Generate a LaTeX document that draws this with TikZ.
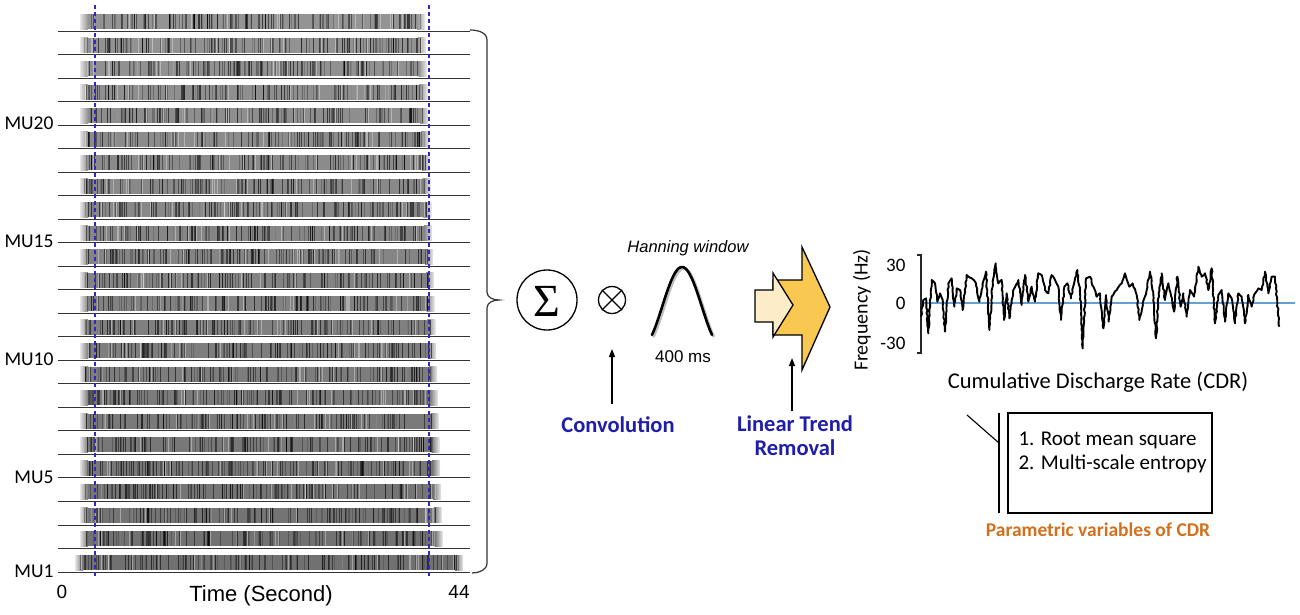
\documentclass[tikz,border=0pt]{standalone}
\usepackage{fontspec}
\setmainfont{Carlito}
\newfontfamily\arialf{Liberation Sans}
\newfontfamily\seriff{Liberation Serif}
\usetikzlibrary{arrows.meta,decorations.pathmorphing}
\definecolor{myblue}{RGB}{30,30,170}
\definecolor{dashblue}{RGB}{50,40,190}
\definecolor{myorange}{RGB}{210,112,30}
\definecolor{lightarr}{RGB}{253,236,200}
\definecolor{yellarr}{RGB}{248,200,80}
\definecolor{zeroline}{RGB}{100,160,210}
\tikzset{
  fs/.style={font=\fontsize{#1}{#1}\selectfont},
  mulabel/.style={anchor=east, font=\fontsize{19.5}{19.5}\selectfont},
  upar/.style={-{Triangle[length=8pt,width=6pt]}, line width=1.3pt},
  bluetxt/.style={text=myblue, font=\fontsize{22.5}{24}\selectfont\bfseries, align=center},
}
\begin{document}
\begin{tikzpicture}[x=1pt,y=-1pt]
\useasboundingbox (0,0) rectangle (1300,614);
\fill[white] (0,0) rectangle (1300,614);
\pgfmathsetseed{4242}
% raster
\foreach \i in {1,...,24}{
  \pgfmathsetmacro{\yb}{572-(\i-1)*23.52}
  \pgfmathsetmacro{\xs}{ifthenelse(\i==1,75,80)}
  \pgfmathsetmacro{\xe}{ifthenelse(\i==1,463,425+(24-\i)*0.8)}
  \pgfmathsetmacro{\dk}{42+(24-\i)*0.6}
  \shade[left color=black!10, right color=black!\dk] (\xs,\yb-17) rectangle (\xs+8,\yb-2);
  \fill[black!\dk] (\xs+8,\yb-17) rectangle (\xe-8,\yb-2);
  \shade[left color=black!\dk, right color=black!8] (\xe-8,\yb-17) rectangle (\xe,\yb-2);
  \foreach \k in {1,...,130}{
    \pgfmathsetmacro{\xx}{\xs+4+rnd*(\xe-\xs-8)}
    \pgfmathsetmacro{\op}{0.15+0.5*rnd}
    \pgfmathsetmacro{\lw}{0.4+0.7*rnd}
    \draw[black, opacity=\op, line width=\lw pt] (\xx,\yb-17) -- (\xx,\yb-2);
  }
  \foreach \k in {1,...,22}{
    \pgfmathsetmacro{\xx}{\xs+4+rnd*(\xe-\xs-8)}
    \draw[white, opacity=0.35, line width=0.8pt] (\xx,\yb-17) -- (\xx,\yb-2);
  }
  \draw[line width=0.9pt, black!80] (58,\yb) -- (470,\yb);
}
% dashed lines
\draw[dashblue, dash pattern=on 4pt off 3pt, line width=1.3pt] (95,5) -- (95,576);
\draw[dashblue, dash pattern=on 4pt off 3pt, line width=1.3pt] (429,5) -- (429,576);
% labels
\node[mulabel] (mu20) at (57,123) {MU20};
\node[mulabel] (mu15) at (57,241) {MU15};
\node[mulabel] (mu10) at (57,359) {MU10};
\node[mulabel] (mu5) at (57,477) {MU5};
\node[mulabel] (mu1) at (57,571) {MU1};
\node[font=\arialf\fontsize{19}{19}\selectfont] (t0) at (62,592) {0};
\node[font=\arialf\fontsize{19}{19}\selectfont] (t44) at (459,592) {44};
\node[font=\arialf\fontsize{22}{22}\selectfont] (tlab) at (261,596) {Time (Second)};
% brace
\draw[line width=1.2pt, black!80] (470,30) to[out=0,in=90] (487,40) -- (487,292) to[out=-90,in=180] (499,300)
  to[out=180,in=90] (487,308) -- (487,563) to[out=-90,in=0] (472,573);
% sigma and otimes
\node[draw, circle, line width=1.3pt, minimum size=60pt, inner sep=0pt] (sig) at (547,300) {};
\node[font=\seriff\fontsize{46}{46}\selectfont] (sigt) at (547,301) {Σ};
\node[draw, circle, line width=1.3pt, minimum size=27pt, inner sep=0pt] (ot) at (612,300) {};
\draw[line width=1.3pt] (ot.north west) -- (ot.south east) (ot.north east) -- (ot.south west);
% hanning
\draw[black!25, line width=3pt, line cap=round] plot[domain=0.12:0.88, samples=50] ({653.5+60*(\x-0.12)/0.76}, {336.5-68*((0.5*(1-cos(360*\x)))-0.134)/0.866});
\draw[black, line width=2.6pt, line cap=round] plot[domain=0.12:0.88, samples=50] ({652+60*(\x-0.12)/0.76}, {335-68*((0.5*(1-cos(360*\x)))-0.134)/0.866});
\node[font=\arialf\itshape\fontsize{16.5}{16.5}\selectfont] (hw) at (688,248) {Hanning window};
\node[font=\arialf\fontsize{17}{17}\selectfont] (ms) at (683,357) {400 ms};
% convolution arrow
\node[bluetxt] (conv) at (618,425) {Convolution};
\coordinate (convbase) at (612,404);
\coordinate (convtip) at (612,349);
\draw[upar] (convbase) -- (convtip);
% big arrows
\draw[line width=1.3pt, fill=yellarr, line join=miter] (773,280) -- (802,280) -- (802,247) -- (830,307) -- (802,370) -- (802,335) -- (773,335) -- cycle;
\draw[line width=1.3pt, fill=lightarr, line join=miter] (755,290) -- (773,290) -- (773,273) -- (793,305) -- (773,337) -- (773,322) -- (755,322) -- cycle;
\node[bluetxt] (ltr) at (795,436) {Linear Trend\\Removal};
\coordinate (ltrbase) at (792,411);
\coordinate (ltrtip) at (792,358);
\draw[upar] (ltrbase) -- (ltrtip);
% CDR plot
\draw[zeroline, line width=1.5pt] (921,303) -- (1295,303);
\draw[line width=1.1pt, black!85] (917,255) -- (921,255) -- (921,353) -- (917,353);
\node[anchor=east, fs=19] (y30) at (909,265) {30};
\node[anchor=east, fs=19] (y0) at (909,303) {0};
\node[anchor=east, fs=19] (ym30) at (909,343) {-30};
\node[rotate=90, fs=20] (ylab) at (862,310) {Frequency (Hz)};
\begin{scope}[shift={(850,240)}, x=1/3pt, y=-1/3pt]
\draw[line width=1.9pt, line join=round, decorate, decoration={random steps, segment length=3pt, amplitude=0.6pt}] plot coordinates {
(213,230) (220,180) (228,175) (235,280) (245,120) (255,130) (262,185) (270,160) (278,180) (285,275)
(295,130) (305,115) (313,200) (320,145) (330,150) (338,210) (350,105) (365,115) (378,130) (388,185)
(398,130) (408,95) (418,270) (428,125) (437,70) (445,130) (455,120) (462,240) (470,160) (478,235)
(490,150) (505,120) (515,195) (525,105) (535,185) (545,140) (555,185) (565,100) (575,105) (585,150)
(595,160) (605,105) (615,120) (625,140) (633,240) (643,140) (652,130) (663,175) (675,115) (682,90)
(690,160) (698,325) (708,115) (720,110) (730,140) (740,170) (750,160) (760,265) (768,165) (776,245)
(785,170) (800,150) (815,130) (825,100) (838,140) (848,130) (860,165) (868,240) (878,190) (890,150)
(900,95) (910,165) (918,295) (926,160) (935,100) (945,180) (955,130) (962,160) (972,215) (982,110)
(992,200) (1000,160) (1010,230) (1020,150) (1032,170) (1045,80) (1055,110) (1065,100) (1075,150) (1085,85)
(1095,250) (1105,165) (1115,150) (1125,245) (1135,160) (1145,175) (1155,250) (1165,160) (1175,170) (1185,250)
(1195,165) (1205,200) (1215,160) (1225,145) (1235,150) (1245,95) (1255,160) (1265,110) (1275,110) (1282,190) (1288,260)};
\end{scope}
\node[fs=22.5] (cdr) at (1098,382) {Cumulative Discharge Rate (CDR)};
% parameter box
\node[draw, line width=1.1pt, minimum width=204pt, minimum height=100pt, inner sep=0pt] (pbox) at (1110,463) {};
\coordinate (vtop) at (999,413);
\coordinate (vbot) at (999,513);
\coordinate (diagA) at (967,415);
\coordinate (diagB) at (999,443);
\draw[line width=1.1pt] (vtop) -- (vbot);
\draw[line width=1.1pt] (diagA) -- (diagB);
\node[anchor=west, align=left, font=\fontsize{21}{24}\selectfont] (ptxt) at (1015,452) {1. Root mean square\\2. Multi-scale entropy};
\node[text=myorange, font=\fontsize{19.5}{19.5}\selectfont\bfseries] (plab) at (1098,530) {Parametric variables of CDR};
\end{tikzpicture}
\end{document}
